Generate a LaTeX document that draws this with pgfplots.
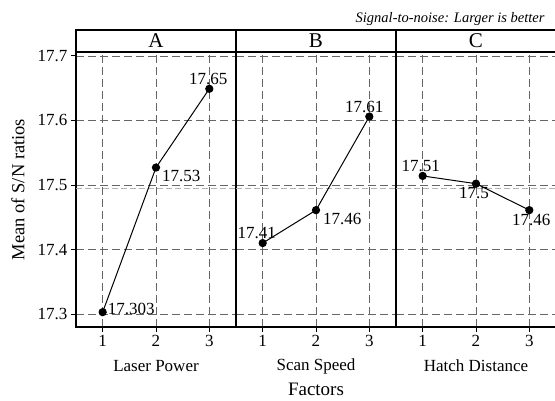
\documentclass[border=0pt]{standalone}
\usepackage{fontspec}
\setmainfont{Liberation Serif}
\usepackage{pgfplots}
\pgfplotsset{compat=1.18}
\usepgfplotslibrary{groupplots}

\pgfplotsset{
  panel/.style={
    width=160pt, height=275pt, scale only axis,
    xmin=0.5, xmax=3.5, ymin=17.28, ymax=17.706,
    xtick={1,2,3}, ytick={17.3,17.4,17.5,17.6,17.7},
    yticklabel style={/pgf/number format/fixed,/pgf/number format/precision=1},
    xtick pos=bottom, ytick pos=left, tick align=outside,
    major tick length=5pt,
    tick style={black, line width=0.8pt},
    grid=major,
    major grid style={dashed, dash pattern=on 8pt off 4pt, black!60, line width=0.7pt},
    axis line style={line width=1.1pt},
    ticklabel style={font=\fontsize{17}{19}\selectfont},
    /pgf/number format/assume math mode=true,
    xlabel style={font=\fontsize{17}{19}\selectfont, at={([yshift=-39pt]rel axis cs:0.5,0)}, anchor=center},
    ylabel style={font=\fontsize{18.5}{21}\selectfont, at={([xshift=-58pt]rel axis cs:0,0.5)}, anchor=center},
    clip=false,
  },
}
\tikzset{
  dat/.style={black, line width=1pt, mark=*, mark size=3.6pt},
  meanline/.style={black!30, dashed, dash pattern=on 6pt off 3pt, line width=0.8pt},
  lab/.style={font=\fontsize{17}{19}\selectfont, inner sep=1pt},
}

\newcommand{\header}[1]{%
  \draw[line width=1.1pt] (rel axis cs:0,1) -- ([yshift=22pt]rel axis cs:0,1)
    -- ([yshift=22pt]rel axis cs:1,1) -- (rel axis cs:1,1);
  \node[font=\fontsize{21}{24}\selectfont] at ([yshift=11pt]rel axis cs:0.5,1) {#1};
}

\begin{document}
\begin{tikzpicture}
\begin{groupplot}[
  group style={group size=3 by 1, horizontal sep=0pt, y descriptions at=edge left},
  panel,
]
\nextgroupplot[xlabel={Laser Power}, ylabel={Mean of S/N ratios}]
\addplot[meanline] coordinates {(0.5,17.494) (3.5,17.494)};
\addplot[dat] coordinates {(1,17.303) (2,17.527) (3,17.649)};
\header{A}
\node[lab, anchor=west] at ([xshift=4pt,yshift=3pt]axis cs:1,17.303) {17.303};
\node[lab, anchor=west] at ([xshift=5pt,yshift=-8pt]axis cs:2,17.527) {17.53};
\node[lab, anchor=south] at ([xshift=-1pt,yshift=3pt]axis cs:3,17.649) {17.65};

\nextgroupplot[xlabel={Scan Speed}, y tick style={draw=none}]
\addplot[meanline] coordinates {(0.5,17.494) (3.5,17.494)};
\addplot[dat] coordinates {(1,17.410) (2,17.461) (3,17.606)};
\header{B}
\node[lab, anchor=south] at ([xshift=-6pt,yshift=3pt]axis cs:1,17.410) {17.41};
\node[lab, anchor=west] at ([xshift=6pt,yshift=-9pt]axis cs:2,17.461) {17.46};
\node[lab, anchor=south] at ([xshift=-5pt,yshift=3pt]axis cs:3,17.606) {17.61};
\node[font=\fontsize{19}{22}\selectfont, anchor=base] at ([yshift=-69pt]rel axis cs:0.5,0) {Factors};

\nextgroupplot[xlabel={Hatch Distance}, y tick style={draw=none}]
\addplot[meanline] coordinates {(0.5,17.494) (3.5,17.494)};
\addplot[dat] coordinates {(1,17.514) (2,17.502) (3,17.461)};
\header{C}
\node[lab, anchor=south] at ([xshift=-2pt,yshift=3pt]axis cs:1,17.514) {17.51};
\node[lab, anchor=north] at ([xshift=-2pt,yshift=-2pt]axis cs:2,17.502) {17.5};
\node[lab, anchor=north] at ([xshift=2pt,yshift=-3pt]axis cs:3,17.461) {17.46};
\node[font=\fontsize{14.5}{16}\selectfont\itshape, anchor=base east] at ([xshift=-8pt,yshift=29pt]rel axis cs:1,1) {Signal-to-noise: Larger is better};
\end{groupplot}
\pgfresetboundingbox
\path[use as bounding box] ([xshift=-76pt,yshift=-74pt]group c1r1.south west)
  rectangle ([xshift=479pt,yshift=52pt]group c1r1.north west);
\end{tikzpicture}
\end{document}
